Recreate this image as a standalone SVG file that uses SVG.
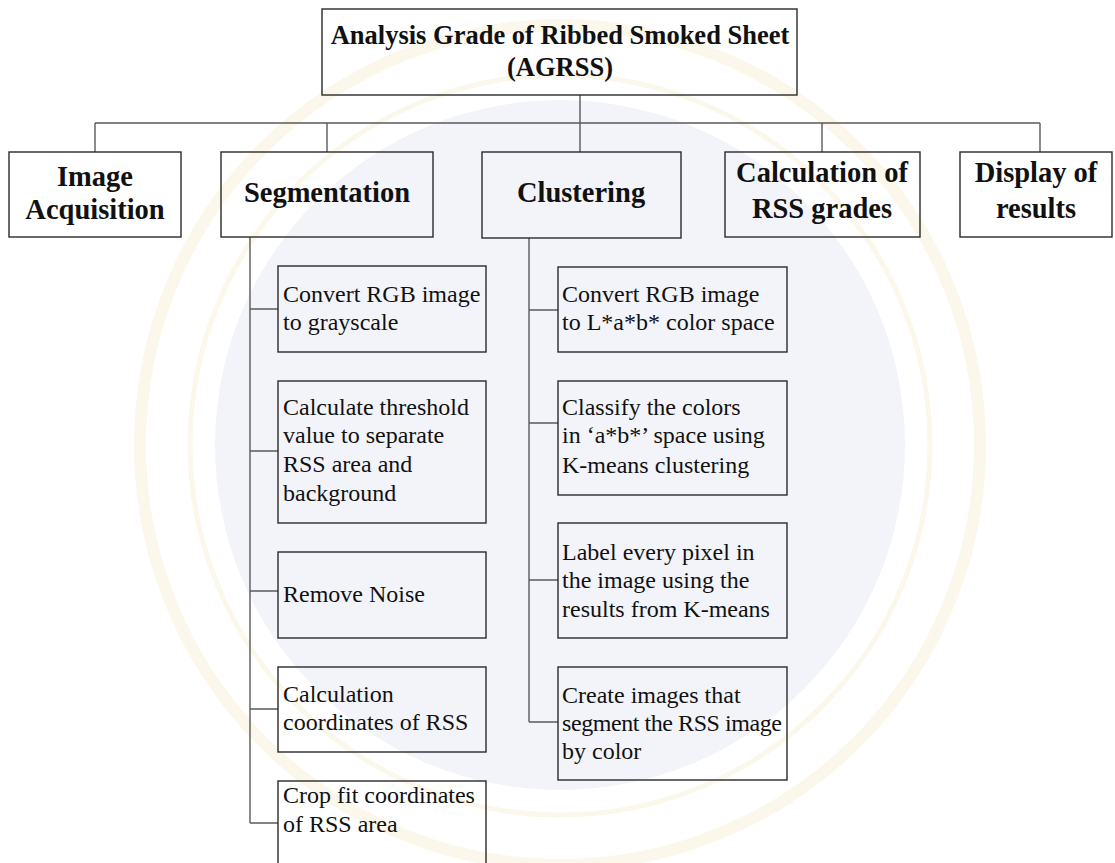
<svg xmlns="http://www.w3.org/2000/svg" width="1115" height="863" viewBox="0 0 1115 863">
  <style>
    .box { fill: none; stroke: #2a2a2a; stroke-width: 1.4; }
    .wire { fill: none; stroke: #5a5a5a; stroke-width: 1.4; }
    .head { font-family: "Liberation Serif", "Times New Roman", serif; font-weight: bold; font-size: 28.5px; fill: #111; text-anchor: middle; }
    .title { font-family: "Liberation Serif", "Times New Roman", serif; font-weight: bold; font-size: 26.5px; fill: #111; text-anchor: middle; }
    .step { font-family: "Liberation Serif", "Times New Roman", serif; font-size: 24px; fill: #111; }
  </style>

  <rect width="1115" height="863" fill="#ffffff"/>

  <!-- faint background seal -->
  <g id="seal">
    <circle cx="560" cy="445" r="345" fill="#f3f4fa"/>
    <circle cx="560" cy="445" r="420" fill="none" stroke="#fbf7ea" stroke-width="12"/>
    <circle cx="560" cy="445" r="370" fill="none" stroke="#fbf7ea" stroke-width="5"/>
  </g>

  <!-- connectors -->
  <g id="connectors">
    <path class="wire" d="M580 95 V123 M95 123 H1040 M95 123 V152 M327 123 V152 M580 123 V152 M822 123 V152 M1040 123 V152"/>
    <path class="wire" d="M250 237 V823 M250 309 H278 M250 451 H278 M250 591 H278 M250 709 H278 M250 823 H278"/>
    <path class="wire" d="M529 238 V722 M529 310 H558 M529 423 H558 M529 580 H558 M529 722 H558"/>
  </g>

  <g id="root">
    <rect class="box" x="322" y="9" width="475" height="86"/>
    <text class="title" x="560" y="44">Analysis Grade of Ribbed Smoked Sheet</text>
    <text class="title" x="560" y="76">(AGRSS)</text>
  </g>

  <g id="image-acquisition">
    <rect class="box" x="9" y="152" width="172" height="85"/>
    <text class="head" x="95" y="186">Image</text>
    <text class="head" x="95" y="219">Acquisition</text>
  </g>

  <g id="segmentation">
    <rect class="box" x="221" y="152" width="212" height="85"/>
    <text class="head" x="327" y="202">Segmentation</text>
  </g>

  <g id="clustering">
    <rect class="box" x="482" y="152" width="199" height="86"/>
    <text class="head" x="581" y="202">Clustering</text>
  </g>

  <g id="rss-grades">
    <rect class="box" x="725" y="152" width="195" height="85"/>
    <text class="head" x="822" y="182">Calculation of</text>
    <text class="head" x="822" y="218">RSS grades</text>
  </g>

  <g id="display">
    <rect class="box" x="960" y="152" width="152" height="85"/>
    <text class="head" x="1036" y="182">Display of</text>
    <text class="head" x="1036" y="218">results</text>
  </g>

  <!-- segmentation steps -->
  <g id="seg-grayscale">
    <rect class="box" x="278" y="266" width="208" height="86"/>
    <text class="step" x="283" y="302">Convert RGB image</text>
    <text class="step" x="283" y="330">to grayscale</text>
  </g>

  <g id="seg-threshold">
    <rect class="box" x="278" y="381" width="208" height="142"/>
    <text class="step" x="283" y="415">Calculate threshold</text>
    <text class="step" x="283" y="443">value to separate</text>
    <text class="step" x="283" y="472">RSS area and</text>
    <text class="step" x="283" y="501">background</text>
  </g>

  <g id="seg-noise">
    <rect class="box" x="278" y="552" width="208" height="86"/>
    <text class="step" x="283" y="602">Remove Noise</text>
  </g>

  <g id="seg-coordinates">
    <rect class="box" x="278" y="667" width="208" height="85"/>
    <text class="step" x="283" y="702">Calculation</text>
    <text class="step" x="283" y="730">coordinates of RSS</text>
  </g>

  <g id="seg-crop">
    <rect class="box" x="278" y="781" width="208" height="100"/>
    <text class="step" x="283" y="803">Crop fit coordinates</text>
    <text class="step" x="283" y="832">of RSS area</text>
  </g>

  <!-- clustering steps -->
  <g id="clu-lab">
    <rect class="box" x="558" y="267" width="229" height="85"/>
    <text class="step" x="562" y="302">Convert RGB image</text>
    <text class="step" x="562" y="330">to L*a*b* color space</text>
  </g>

  <g id="clu-kmeans">
    <rect class="box" x="558" y="381" width="229" height="114"/>
    <text class="step" x="562" y="415">Classify the colors</text>
    <text class="step" x="562" y="443">in ‘a*b*’ space using</text>
    <text class="step" x="562" y="473">K-means clustering</text>
  </g>

  <g id="clu-label">
    <rect class="box" x="558" y="523" width="229" height="115"/>
    <text class="step" x="562" y="560">Label every pixel in</text>
    <text class="step" x="562" y="588">the image using the</text>
    <text class="step" x="562" y="617">results from K-means</text>
  </g>

  <g id="clu-segment">
    <rect class="box" x="558" y="667" width="229" height="113"/>
    <text class="step" x="562" y="703">Create images that</text>
    <text class="step" x="562" y="731" textLength="220" lengthAdjust="spacing">segment the RSS image</text>
    <text class="step" x="562" y="759">by color</text>
  </g>
</svg>
